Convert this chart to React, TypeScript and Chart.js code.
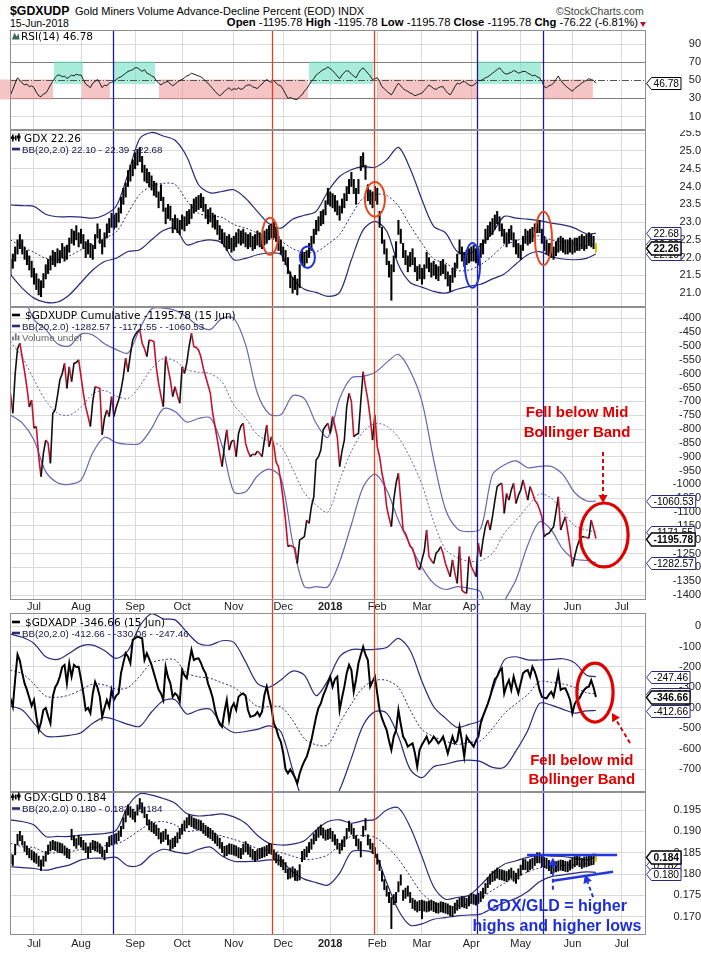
import React, { useEffect, useRef } from 'react';
import { Chart, registerables } from 'chart.js';

Chart.register(...registerables);

// ---------------- layout constants ----------------
const W = 701;
const H = 958;
const PLOT_L = 10;
const PLOT_R = 646;
const X_MIN = -0.2;
const X_MAX = 270.3;
const AF = '"Liberation Sans", Arial, Helvetica, sans-serif';
const VF = '"DejaVu Sans", Verdana, sans-serif';
const NAVY = '#2a2a7c';
const NAVY_LIGHT = '#6666b2';

// ---------------- x axis (trading-day index) ----------------
const MONTH_IDX = [10, 30, 53, 73, 95, 116, 136, 156, 175, 196, 217, 239, 260];
const MONTH_LBL = ['Jul', 'Aug', 'Sep', 'Oct', 'Nov', 'Dec', '2018', 'Feb', 'Mar', 'Apr', 'May', 'Jun', 'Jul'];
const BAND_X = [0, 5, 10, 15, 20, 25, 30, 35, 40, 45, 50, 55, 60, 65, 70, 75, 80, 85, 90, 95, 100, 105, 110, 115, 120, 125, 130, 135, 140, 145, 150, 155, 160, 165, 170, 175, 180, 185, 190, 195, 200, 205, 210, 215, 220, 225, 230, 235, 240, 245, 249];

// vertical marker lines (trading-day index)
const MARKER_X = [43.7, 111.4, 154.6, 198.4, 226.5];
const MARKER_C = ['#1b1b9a', '#d9441c', '#d9441c', '#1b1b9a', '#1b1b9a'];

// ---------------- RSI(14) ----------------
const RSI = [
  34, 40, 47, 53, 50, 47, 45, 46, 43, 44,
  42, 37, 33, 32, 35, 36, 40, 45, 49, 53,
  56, 56, 54, 55, 52, 54, 56, 55, 57, 56,
  56, 51, 46, 44, 42, 47, 49, 51, 47, 42,
  45, 44, 47, 48, 49, 51, 53, 54, 56, 58,
  60, 61, 62, 64, 64, 62, 60, 62, 58, 57,
  55, 54, 50, 47, 45, 47, 48, 49, 46, 44,
  46, 48, 50, 51, 53, 55, 56, 58, 57, 56,
  55, 54, 52, 49, 47, 44, 41, 38, 35, 33,
  35, 38, 40, 42, 39, 41, 40, 42, 40, 41,
  44, 45, 45, 43, 42, 41, 44, 46, 49, 51,
  49, 48, 50, 47, 45, 44, 40, 35, 30, 31,
  30, 29, 29, 32, 34, 38, 41, 45, 49, 52,
  56, 58, 60, 62, 63, 65, 63, 61, 58, 55,
  52, 56, 59, 61, 60, 57, 55, 53, 58, 62,
  64, 61, 58, 55, 51, 52, 53, 49, 43, 41,
  38, 36, 34, 38, 43, 47, 44, 41, 39, 38,
  36, 35, 33, 34, 35, 36, 39, 42, 45, 43,
  41, 40, 42, 43, 43, 39, 36, 34, 38, 43,
  47, 46, 48, 49, 47, 45, 44, 45, 47, 50,
  50, 51, 53, 54, 56, 58, 60, 62, 64, 61,
  58, 57, 58, 59, 61, 60, 58, 59, 60, 60,
  58, 57, 55, 56, 54, 53, 49, 43, 42, 44,
  45, 47, 51, 55, 50, 47, 44, 42, 40, 38,
  41, 43, 45, 47, 49, 50, 52, 51, 50, 46.78,
];
const RSI_TICKS = [10, 30, 50, 70, 90];
// annotation boxes on the RSI panel
const ZONE_START = [-4.5, 18.5, 30.4, 43.6, 63.2, 127, 155.9, 198.4, 226.5];
const ZONE_END = [18.1, 30.8, 42.3, 61.5, 126.5, 154.2, 198.4, 225.6, 247.7];
const ZONE_KIND = ['bear', 'bull', 'bear', 'bull', 'bear', 'bull', 'bear', 'bull', 'bear'];
const BULL_RANGE = [46, 71];
const BEAR_RANGE = [29, 51];

// ---------------- GDX price ----------------
const GDX_HI = [
  21.95, 22.1, 22.3, 22.5, 22.65, 22.5, 22.3, 22.2, 22.05, 21.9,
  21.7, 21.55, 21.4, 21.35, 21.55, 21.8, 21.95, 22.05, 22.2, 22.15,
  22.25, 22.2, 22.4, 22.3, 22.35, 22.55, 22.8, 22.75, 22.9, 22.7,
  22.8, 22.65, 22.45, 22.5, 22.4, 22.35, 22.65, 22.95, 22.8, 22.5,
  22.7, 22.95, 23.1, 23.25, 23.2, 23.25, 23.4, 23.7, 23.95, 24.1,
  24.45, 24.6, 24.75, 24.95, 25.05, 25.1, 24.85, 24.6, 24.5, 24.4,
  24.3, 24.15, 24.1, 23.85, 24.05, 23.7, 23.4, 23.5, 23.45, 23.1,
  23.2, 23.1, 23.05, 23.2, 23.15, 23.3, 23.35, 23.5, 23.65, 23.7,
  23.75, 23.8, 23.7, 23.5, 23.35, 23.4, 23.25, 23.2, 23.05, 22.9,
  22.8, 22.7, 22.6, 22.65, 22.55, 22.6, 22.7, 22.8, 22.75, 22.8,
  22.7, 22.65, 22.7, 22.6, 22.65, 22.75, 22.7, 22.65, 22.75, 22.8,
  22.9, 22.95, 23.0, 22.85, 22.6, 22.5, 22.3, 22.2, 22.0, 21.6,
  21.45, 21.5, 21.4, 21.8, 22.2, 22.15, 22.2, 22.4, 22.6, 22.8,
  23.05, 23.15, 23.3, 23.35, 23.6, 23.95, 23.85, 23.8, 23.75, 23.6,
  23.45, 23.65, 23.8, 24.0, 24.2, 24.4, 24.2, 23.95, 24.2, 24.85,
  24.95, 24.6, 24.05, 23.9, 23.85, 24.0, 23.95, 23.3, 22.85, 22.5,
  22.25, 21.9, 21.8, 22.05, 22.45, 23.05, 22.8, 22.4, 22.2, 22.05,
  22.15, 22.25, 22.0, 21.75, 21.8, 21.7, 21.8, 22.15, 22.0, 21.85,
  21.9, 21.8, 21.75, 21.9, 21.95, 21.8, 21.6, 21.5, 21.7, 21.85,
  22.1, 22.5, 22.3, 22.15, 22.2, 22.25, 22.3, 22.35, 22.25, 22.25,
  22.4, 22.5, 22.8, 22.9, 23.0, 23.1, 23.2, 23.3, 23.15, 22.95,
  22.8, 22.7, 22.8, 22.9, 22.7, 22.5, 22.4, 22.35, 22.6, 22.8,
  22.75, 22.8, 22.85, 22.95, 23.05, 23.05, 22.8, 22.6, 22.5, 22.4,
  22.4, 22.3, 22.45, 22.55, 22.6, 22.55, 22.5, 22.5, 22.55, 22.5,
  22.55, 22.55, 22.6, 22.65, 22.6, 22.65, 22.7, 22.65, 22.6, 22.4,
];
const GDX_LO = [
  21.5, 21.7, 21.9, 22.1, 22.25, 22.1, 21.95, 21.8, 21.65, 21.45,
  21.25, 21.1, 20.95, 20.9, 21.15, 21.4, 21.55, 21.65, 21.8, 21.75,
  21.85, 21.85, 22.0, 21.9, 21.95, 22.15, 22.4, 22.35, 22.5, 22.3,
  22.4, 22.25, 22.0, 22.1, 22.0, 21.95, 22.25, 22.55, 22.4, 22.1,
  22.3, 22.55, 22.7, 22.85, 22.8, 22.85, 23.0, 23.25, 23.5, 23.7,
  24.0, 24.15, 24.3, 24.5, 24.6, 24.7, 24.4, 24.15, 24.1, 24.0,
  23.9, 23.75, 23.7, 23.4, 23.6, 23.3, 22.95, 23.1, 23.05, 22.7,
  22.8, 22.7, 22.65, 22.8, 22.75, 22.9, 22.95, 23.1, 23.25, 23.3,
  23.35, 23.4, 23.3, 23.1, 22.95, 23.0, 22.85, 22.8, 22.65, 22.5,
  22.4, 22.3, 22.2, 22.25, 22.15, 22.2, 22.3, 22.4, 22.35, 22.4,
  22.3, 22.25, 22.3, 22.2, 22.25, 22.35, 22.3, 22.25, 22.35, 22.4,
  22.5, 22.55, 22.55, 22.45, 22.2, 22.1, 21.9, 21.8, 21.55, 21.15,
  21.0, 21.1, 20.95, 21.15, 21.8, 21.75, 21.85, 22.0, 22.2, 22.4,
  22.65, 22.75, 22.9, 22.95, 23.2, 23.5, 23.45, 23.4, 23.3, 23.2,
  23.05, 23.25, 23.4, 23.6, 23.8, 24.0, 23.8, 23.5, 23.8, 24.45,
  24.55, 24.2, 23.6, 23.5, 23.4, 23.6, 23.5, 22.85, 22.4, 22.1,
  21.8, 21.45, 20.8, 21.6, 22.0, 22.65, 22.4, 22.0, 21.8, 21.6,
  21.75, 21.8, 21.6, 21.35, 21.4, 21.25, 21.4, 21.7, 21.6, 21.45,
  21.5, 21.4, 21.35, 21.5, 21.55, 21.4, 21.2, 21.05, 21.3, 21.45,
  21.7, 22.1, 21.9, 21.75, 21.8, 21.85, 21.9, 21.9, 21.85, 21.8,
  22.0, 22.1, 22.4, 22.5, 22.6, 22.65, 22.8, 22.95, 22.75, 22.6,
  22.4, 22.3, 22.4, 22.5, 22.3, 22.1, 22.0, 21.95, 22.2, 22.4,
  22.35, 22.4, 22.45, 22.55, 22.7, 22.7, 22.4, 22.2, 22.1, 22.05,
  22.0, 21.95, 22.05, 22.15, 22.2, 22.15, 22.1, 22.1, 22.15, 22.1,
  22.15, 22.2, 22.2, 22.25, 22.2, 22.25, 22.35, 22.3, 22.25, 22.15,
];
const GDX_BB_UP = [23.48, 23.46, 23.44, 23.22, 23.15, 23.15, 23.14, 23.11, 23.20, 23.45, 24.35, 25.35, 25.52, 25.42, 25.30, 24.84, 24.05, 23.82, 23.86, 23.91, 23.67, 23.30, 22.95, 22.83, 23.08, 23.19, 23.30, 23.86, 24.28, 24.47, 24.56, 24.54, 24.75, 25.10, 24.50, 23.63, 22.88, 22.70, 22.17, 22.11, 22.35, 22.70, 23.16, 23.11, 23.08, 23.04, 22.97, 22.92, 22.83, 22.67, 22.68];
const GDX_BB_MID = [22.50, 22.30, 22.15, 21.98, 21.95, 22.05, 22.22, 22.38, 22.55, 22.72, 23.26, 23.78, 24.01, 24.09, 24.06, 23.60, 23.25, 23.16, 23.13, 22.93, 22.83, 22.69, 22.54, 22.46, 22.25, 22.15, 22.16, 22.38, 22.65, 23.20, 23.67, 23.78, 23.75, 23.45, 22.90, 22.40, 21.96, 21.85, 21.64, 21.65, 21.80, 22.05, 22.35, 22.47, 22.58, 22.61, 22.50, 22.44, 22.39, 22.33, 22.39];
const GDX_BB_LO = [21.52, 21.14, 20.86, 20.74, 20.75, 20.95, 21.30, 21.65, 21.89, 21.98, 22.17, 22.22, 22.50, 22.76, 22.83, 22.36, 22.45, 22.50, 22.41, 21.94, 21.98, 22.08, 22.13, 22.09, 21.42, 21.11, 21.02, 20.91, 21.02, 21.94, 22.78, 23.02, 22.75, 21.80, 21.30, 21.17, 21.05, 21.00, 21.11, 21.19, 21.25, 21.40, 21.54, 21.82, 22.08, 22.17, 22.03, 21.96, 21.94, 21.98, 22.10];
const GDX_TICKS = [21.0, 21.5, 22.0, 22.5, 23.0, 23.5, 24.0, 24.5, 25.0, 25.5];
const GDX_LAST = { close: 22.26, lo: 22.10, mid: 22.39, up: 22.68 };
// circled spots on the GDX panel: centre (index, price) and radii
const GDX_ELL_X = [110.4, 126.3, 155, 196.5, 226.7];
const GDX_ELL_Y = [22.60, 22.01, 23.64, 21.78, 22.54];
const GDX_ELL_RX = [3.4, 3.2, 4.25, 3.2, 3.6];
const GDX_ELL_RY = [0.52, 0.30, 0.49, 0.63, 0.75];
const GDX_ELL_C = ['#e2491f', '#1f35d8', '#e2491f', '#1f35d8', '#e2491f'];

// ---------------- $GDXUDP cumulative ----------------
const CUM = [
  -671, -743, -600, -510, -490, -540, -593, -650, -720, -695,
  -797, -791, -900, -972, -888, -840, -852, -924, -743, -731,
  -680, -623, -600, -563, -653, -575, -629, -563, -560, -550,
  -610, -671, -720, -755, -791, -700, -647, -650, -653, -821,
  -760, -731, -755, -683, -755, -720, -695, -660, -611, -544,
  -593, -530, -478, -460, -448, -442, -490, -510, -538, -478,
  -480, -484, -575, -635, -680, -719, -538, -580, -623, -683,
  -647, -680, -707, -575, -599, -560, -500, -454, -502, -505,
  -514, -540, -580, -610, -640, -670, -743, -790, -840, -890,
  -936, -860, -803, -876, -845, -840, -900, -816, -790, -779,
  -852, -880, -900, -890, -894, -880, -888, -900, -840, -786,
  -864, -828, -860, -920, -936, -990, -1057, -1130, -1225, -1220,
  -1225, -1230, -1286, -1201, -1195, -1189, -1129, -1141, -1080, -1045,
  -912, -900, -876, -803, -790, -779, -816, -755, -790, -828,
  -936, -880, -840, -720, -671, -700, -828, -820, -816, -700,
  -593, -647, -695, -760, -840, -749, -864, -900, -960, -1000,
  -1081, -1120, -1153, -1057, -996, -960, -1060, -1165, -1177, -1200,
  -1225, -1231, -1260, -1297, -1309, -1273, -1240, -1165, -1261, -1275,
  -1286, -1249, -1240, -1225, -1250, -1286, -1310, -1334, -1273, -1320,
  -1358, -1225, -1382, -1390, -1394, -1261, -1297, -1315, -1334, -1213,
  -1261, -1200, -1153, -1129, -1165, -1117, -1060, -1008, -1000, -996,
  -1105, -1033, -1057, -1020, -996, -1069, -1040, -1021, -984, -1020,
  -1057, -1008, -1030, -1057, -1069, -1090, -1117, -1189, -1180, -1177,
  -1165, -1153, -1100, -1045, -1165, -1140, -1117, -1170, -1225, -1297,
  -1260, -1225, -1201, -1190, -1189, -1192, -1195, -1129, -1160, -1195.78,
];
const CUM_BB_UP = [-219, -304, -404, -440, -492, -500, -457, -460, -492, -513, -525, -438, -366, -363, -371, -395, -428, -440, -400, -400, -495, -670, -745, -748, -680, -690, -779, -830, -690, -615, -610, -596, -560, -530, -590, -700, -912, -1090, -1160, -1171, -1160, -965, -930, -915, -940, -935, -935, -965, -1030, -1060, -1060.53];
const CUM_BB_MID = [-484, -541, -622, -697, -743, -750, -721, -673, -661, -681, -690, -645, -582, -545, -554, -585, -595, -600, -630, -713, -761, -820, -845, -862, -944, -1030, -1075, -1100, -985, -880, -810, -780, -790, -830, -905, -1000, -1135, -1235, -1265, -1278, -1275, -1250, -1177, -1130, -1080, -1035, -1050, -1100, -1150, -1165, -1171.55];
const CUM_BB_LO = [-749, -778, -840, -954, -994, -1000, -985, -886, -830, -849, -855, -852, -798, -727, -737, -775, -762, -760, -860, -1027, -1027, -970, -945, -976, -1208, -1370, -1370, -1370, -1280, -1145, -1010, -963, -1020, -1130, -1220, -1300, -1358, -1380, -1370, -1376, -1390, -1535, -1424, -1345, -1220, -1135, -1165, -1235, -1270, -1275, -1282.57];
const CUM_TICKS = [-400, -450, -500, -550, -600, -650, -700, -750, -800, -850, -900, -950, -1000, -1050, -1100, -1150, -1200, -1250, -1300, -1350, -1400];
const CUM_LAST = { close: -1195.78, lo: -1282.57, mid: -1171.55, up: -1060.53 };

// ---------------- $GDXADP ----------------
const ADP = [
  -353, -394, -260, -140, -170, -230, -280, -312, -350, -390,
  -361, -443, -510, -470, -410, -400, -440, -475, -345, -300,
  -280, -247, -200, -190, -280, -182, -247, -190, -200, -199,
  -260, -329, -410, -400, -426, -330, -272, -300, -345, -443,
  -400, -361, -394, -312, -361, -340, -329, -231, -180, -133,
  -150, -182, -68, -60, -52, -56, -60, -166, -133, -160,
  -190, -230, -270, -310, -329, -361, -199, -250, -280, -345,
  -329, -340, -369, -215, -240, -255, -180, -117, -166, -160,
  -158, -180, -210, -231, -280, -312, -350, -410, -450, -480,
  -492, -420, -361, -459, -400, -378, -410, -345, -335, -329,
  -340, -410, -443, -440, -435, -420, -440, -418, -337, -296,
  -353, -400, -475, -500, -540, -565, -620, -700, -719, -700,
  -719, -740, -768, -720, -687, -660, -638, -600, -557, -500,
  -443, -400, -378, -340, -312, -280, -247, -296, -260, -247,
  -410, -350, -296, -230, -190, -215, -321, -260, -182, -140,
  -101, -140, -166, -296, -270, -247, -330, -410, -450, -480,
  -508, -560, -605, -540, -508, -410, -480, -540, -560, -589,
  -580, -573, -620, -687, -605, -580, -560, -540, -573, -560,
  -540, -555, -573, -560, -540, -580, -622, -580, -540, -573,
  -560, -492, -560, -638, -540, -560, -573, -589, -560, -540,
  -475, -440, -410, -380, -345, -300, -260, -247, -220, -207,
  -329, -290, -264, -312, -247, -290, -329, -280, -231, -220,
  -215, -247, -199, -223, -260, -312, -345, -350, -353, -335,
  -321, -345, -290, -231, -312, -305, -304, -330, -361, -426,
  -380, -361, -353, -330, -312, -300, -296, -265, -300, -346.66,
];
const ADP_BB_UP = [-40, -55, -85, -150, -163, -133, -98, -93, -120, -158, -120, 0, 60, 35, 30, -30, -85, -93, -72, -80, -175, -280, -299, -264, -220, -240, -340, -265, -150, -115, -115, -114, -105, -60, -120, -270, -394, -450, -495, -480, -459, -313, -166, -150, -165, -166, -163, -160, -180, -240, -247.46];
const ADP_BB_MID = [-215, -233, -283, -342, -348, -337, -312, -283, -288, -308, -300, -245, -180, -165, -165, -230, -248, -256, -277, -300, -345, -392, -394, -395, -460, -550, -580, -580, -475, -380, -300, -266, -265, -300, -410, -505, -540, -562, -578, -568, -560, -500, -428, -380, -335, -272, -275, -283, -300, -326, -330.06];
const ADP_BB_LO = [-390, -410, -475, -537, -540, -534, -521, -475, -446, -460, -480, -490, -420, -365, -360, -430, -410, -407, -483, -520, -515, -505, -488, -516, -700, -860, -820, -895, -800, -645, -485, -418, -425, -540, -700, -740, -687, -675, -660, -655, -662, -690, -690, -610, -510, -378, -386, -407, -425, -414, -412.66];
const ADP_TICKS = [0, -100, -200, -300, -400, -500, -600, -700];
const ADP_LAST = { close: -346.66, lo: -412.66, mid: -330.06, up: -247.46 };

// ---------------- GDX:GLD ratio ----------------
const GLD_HI = [
  0.1848, 0.1845, 0.1870, 0.1893, 0.1900, 0.1890, 0.1876, 0.1866, 0.1860, 0.1856,
  0.1852, 0.1848, 0.1842, 0.1833, 0.1842, 0.1853, 0.1868, 0.1876, 0.1879, 0.1876,
  0.1875, 0.1873, 0.1871, 0.1866, 0.1861, 0.1858, 0.1905, 0.1890, 0.1883, 0.1891,
  0.1886, 0.1879, 0.1873, 0.1864, 0.1873, 0.1879, 0.1877, 0.1875, 0.1871, 0.1863,
  0.1856, 0.1874, 0.1888, 0.1891, 0.1893, 0.1895, 0.1901, 0.1912, 0.1932, 0.1948,
  0.1962, 0.1958, 0.1952, 0.1946, 0.1962, 0.1977, 0.1967, 0.1957, 0.1940, 0.1927,
  0.1923, 0.1919, 0.1915, 0.1907, 0.1897, 0.1900, 0.1905, 0.1892, 0.1880, 0.1884,
  0.1888, 0.1897, 0.1907, 0.1917, 0.1925, 0.1932, 0.1939, 0.1935, 0.1931, 0.1929,
  0.1927, 0.1925, 0.1919, 0.1914, 0.1910, 0.1907, 0.1902, 0.1896, 0.1890, 0.1884,
  0.1874, 0.1865, 0.1867, 0.1871, 0.1870, 0.1868, 0.1866, 0.1862, 0.1860, 0.1870,
  0.1876, 0.1870, 0.1864, 0.1858, 0.1853, 0.1857, 0.1860, 0.1862, 0.1864, 0.1867,
  0.1872, 0.1870, 0.1857, 0.1850, 0.1845, 0.1841, 0.1834, 0.1827, 0.1812, 0.1814,
  0.1817, 0.1812, 0.1808, 0.1822, 0.1853, 0.1858, 0.1864, 0.1874, 0.1882, 0.1894,
  0.1902, 0.1910, 0.1915, 0.1908, 0.1903, 0.1905, 0.1907, 0.1900, 0.1892, 0.1882,
  0.1872, 0.1880, 0.1888, 0.1907, 0.1924, 0.1917, 0.1907, 0.1890, 0.1882, 0.1876,
  0.1912, 0.1930, 0.1892, 0.1882, 0.1872, 0.1862, 0.1847, 0.1832, 0.1807, 0.1787,
  0.1772, 0.1757, 0.1745, 0.1752, 0.1757, 0.1782, 0.1798, 0.1762, 0.1767, 0.1772,
  0.1757, 0.1743, 0.1739, 0.1735, 0.1738, 0.1739, 0.1737, 0.1735, 0.1737, 0.1739,
  0.1736, 0.1733, 0.1732, 0.1735, 0.1734, 0.1732, 0.1730, 0.1726, 0.1724, 0.1732,
  0.1739, 0.1743, 0.1747, 0.1745, 0.1743, 0.1749, 0.1755, 0.1753, 0.1751, 0.1755,
  0.1759, 0.1767, 0.1778, 0.1792, 0.1800, 0.1806, 0.1809, 0.1814, 0.1811, 0.1810,
  0.1808, 0.1806, 0.1810, 0.1814, 0.1807, 0.1802, 0.1812, 0.1821, 0.1834, 0.1834,
  0.1829, 0.1834, 0.1837, 0.1844, 0.1850, 0.1850, 0.1841, 0.1839, 0.1837, 0.1832,
  0.1825, 0.1827, 0.1829, 0.1831, 0.1833, 0.1832, 0.1830, 0.1829, 0.1833, 0.1837,
  0.1841, 0.1845, 0.1841, 0.1837, 0.1840, 0.1841, 0.1843, 0.1845, 0.1847, 0.1848,
];
const GLD_LO = [
  0.1825, 0.1820, 0.1845, 0.1868, 0.1878, 0.1868, 0.1853, 0.1845, 0.1838, 0.1833,
  0.1828, 0.1825, 0.1818, 0.1808, 0.1818, 0.1830, 0.1846, 0.1854, 0.1857, 0.1855,
  0.1852, 0.1850, 0.1849, 0.1844, 0.1838, 0.1836, 0.1880, 0.1866, 0.1860, 0.1868,
  0.1863, 0.1856, 0.1850, 0.1838, 0.1850, 0.1857, 0.1854, 0.1852, 0.1848, 0.1840,
  0.1833, 0.1850, 0.1864, 0.1868, 0.1870, 0.1872, 0.1878, 0.1888, 0.1906, 0.1922,
  0.1938, 0.1933, 0.1928, 0.1922, 0.1938, 0.1952, 0.1943, 0.1932, 0.1915, 0.1903,
  0.1899, 0.1895, 0.1890, 0.1882, 0.1872, 0.1876, 0.1881, 0.1868, 0.1856, 0.1860,
  0.1864, 0.1873, 0.1883, 0.1893, 0.1901, 0.1908, 0.1915, 0.1911, 0.1907, 0.1905,
  0.1903, 0.1901, 0.1895, 0.1890, 0.1886, 0.1883, 0.1878, 0.1872, 0.1866, 0.1860,
  0.1850, 0.1841, 0.1843, 0.1847, 0.1846, 0.1844, 0.1842, 0.1838, 0.1836, 0.1846,
  0.1852, 0.1846, 0.1840, 0.1834, 0.1829, 0.1833, 0.1836, 0.1838, 0.1840, 0.1843,
  0.1848, 0.1846, 0.1833, 0.1826, 0.1821, 0.1817, 0.1810, 0.1803, 0.1788, 0.1790,
  0.1793, 0.1785, 0.1784, 0.1786, 0.1829, 0.1834, 0.1840, 0.1850, 0.1858, 0.1870,
  0.1878, 0.1886, 0.1891, 0.1884, 0.1879, 0.1881, 0.1883, 0.1876, 0.1868, 0.1858,
  0.1848, 0.1856, 0.1864, 0.1883, 0.1900, 0.1893, 0.1883, 0.1866, 0.1858, 0.1840,
  0.1888, 0.1903, 0.1868, 0.1858, 0.1848, 0.1838, 0.1823, 0.1808, 0.1783, 0.1763,
  0.1748, 0.1733, 0.1672, 0.1728, 0.1733, 0.1758, 0.1774, 0.1738, 0.1743, 0.1748,
  0.1733, 0.1719, 0.1715, 0.1711, 0.1714, 0.1695, 0.1713, 0.1711, 0.1713, 0.1715,
  0.1712, 0.1709, 0.1708, 0.1711, 0.1710, 0.1708, 0.1706, 0.1702, 0.1700, 0.1708,
  0.1715, 0.1719, 0.1723, 0.1721, 0.1719, 0.1725, 0.1731, 0.1729, 0.1727, 0.1731,
  0.1735, 0.1743, 0.1754, 0.1768, 0.1776, 0.1782, 0.1785, 0.1790, 0.1787, 0.1786,
  0.1784, 0.1782, 0.1786, 0.1790, 0.1783, 0.1778, 0.1788, 0.1797, 0.1810, 0.1810,
  0.1805, 0.1810, 0.1813, 0.1820, 0.1826, 0.1826, 0.1817, 0.1815, 0.1813, 0.1808,
  0.1801, 0.1803, 0.1805, 0.1807, 0.1809, 0.1808, 0.1806, 0.1805, 0.1809, 0.1813,
  0.1817, 0.1821, 0.1817, 0.1813, 0.1816, 0.1817, 0.1819, 0.1821, 0.1823, 0.1830,
];
const GLD_BB_UP = [0.1927, 0.1923, 0.1915, 0.1888, 0.1888, 0.1888, 0.1891, 0.1893, 0.1895, 0.1903, 0.1959, 0.1988, 0.1985, 0.1977, 0.1966, 0.1942, 0.1936, 0.1938, 0.1941, 0.1934, 0.1919, 0.1891, 0.1872, 0.1868, 0.1870, 0.1878, 0.1903, 0.1923, 0.1927, 0.1919, 0.1925, 0.1928, 0.1950, 0.1955, 0.1910, 0.1841, 0.1770, 0.1741, 0.1745, 0.1750, 0.1774, 0.1802, 0.1823, 0.1831, 0.1839, 0.1844, 0.1842, 0.1841, 0.1837, 0.1833, 0.1840];
const GLD_BB_MID = [0.1872, 0.1864, 0.1862, 0.1850, 0.1850, 0.1852, 0.1858, 0.1862, 0.1866, 0.1870, 0.1884, 0.1903, 0.1919, 0.1923, 0.1915, 0.1900, 0.1903, 0.1897, 0.1889, 0.1881, 0.1872, 0.1860, 0.1855, 0.1850, 0.1842, 0.1834, 0.1836, 0.1845, 0.1868, 0.1889, 0.1890, 0.1886, 0.1865, 0.1835, 0.1795, 0.1755, 0.1733, 0.1723, 0.1725, 0.1731, 0.1743, 0.1762, 0.1778, 0.1792, 0.1805, 0.1814, 0.1819, 0.1820, 0.1822, 0.1824, 0.1822];
const GLD_BB_LO = [0.1817, 0.1815, 0.1813, 0.1809, 0.1815, 0.1821, 0.1833, 0.1837, 0.1837, 0.1839, 0.1819, 0.1821, 0.1845, 0.1858, 0.1852, 0.1848, 0.1858, 0.1863, 0.1842, 0.1830, 0.1829, 0.1830, 0.1833, 0.1831, 0.1805, 0.1788, 0.1780, 0.1774, 0.1802, 0.1852, 0.1855, 0.1847, 0.1780, 0.1715, 0.1680, 0.1683, 0.1694, 0.1698, 0.1702, 0.1704, 0.1706, 0.1720, 0.1733, 0.1743, 0.1759, 0.1782, 0.1794, 0.1798, 0.1802, 0.1805, 0.1804];
const GLD_TICKS = [0.170, 0.175, 0.180, 0.185, 0.190, 0.195];
const GLD_LAST = { close: 0.184, lo: 0.180, mid: 0.182, up: 0.184 };

// ---------------- helpers ----------------
const series = (arr: number[]) => arr.map((v, i) => ({ x: i, y: v }));
const bands = (arr: number[]) => BAND_X.map((x, k) => ({ x, y: arr[k] }));
const floatBars = (lo: number[], hi: number[]) => hi.map((h, i) => ({ x: i, y: [lo[i], h] }));

function bandSets(up: number[], mid: number[], lo: number[], color: string) {
  const base = { type: 'line', pointRadius: 0, tension: 0.3, borderColor: color, fill: false };
  return [
    { ...base, data: bands(up), borderWidth: 1.2 },
    { ...base, data: bands(mid), borderWidth: 1, borderDash: [2, 2] },
    { ...base, data: bands(lo), borderWidth: 1.2 },
  ];
}

function drawArrow(ctx: any, x1: number, y1: number, x2: number, y2: number, color: string, lw: number) {
  const ang = Math.atan2(y2 - y1, x2 - x1);
  const head = 8;
  const bx = x2 - Math.cos(ang) * head;
  const by = y2 - Math.sin(ang) * head;
  ctx.save();
  ctx.strokeStyle = color;
  ctx.lineWidth = lw;
  ctx.setLineDash([4, 3]);
  ctx.beginPath();
  ctx.moveTo(x1, y1);
  ctx.lineTo(bx, by);
  ctx.stroke();
  ctx.setLineDash([]);
  ctx.fillStyle = color;
  ctx.beginPath();
  ctx.moveTo(x2, y2);
  ctx.lineTo(bx + Math.sin(ang) * 4.5, by - Math.cos(ang) * 4.5);
  ctx.lineTo(bx - Math.sin(ang) * 4.5, by + Math.cos(ang) * 4.5);
  ctx.closePath();
  ctx.fill();
  ctx.restore();
}

function drawEllipse(chart: any, cx: number, cy: number, rx: number, ry: number, color: string, lw: number) {
  const xs = chart.scales.x;
  const ys = chart.scales.y;
  const px = xs.getPixelForValue(cx);
  const py = ys.getPixelForValue(cy);
  const prx = Math.abs(xs.getPixelForValue(cx + rx) - px);
  const pry = Math.abs(ys.getPixelForValue(cy + ry) - py);
  const ctx = chart.ctx;
  ctx.save();
  ctx.strokeStyle = color;
  ctx.lineWidth = lw;
  ctx.beginPath();
  ctx.ellipse(px, py, prx, pry, 0, 0, Math.PI * 2);
  ctx.stroke();
  ctx.restore();
}

function drawNote(chart: any, x: number, y: number, text: string, font: string, color: string) {
  const ctx = chart.ctx;
  ctx.save();
  ctx.font = font;
  ctx.fillStyle = color;
  ctx.textAlign = 'center';
  ctx.textBaseline = 'middle';
  ctx.fillText(text, chart.scales.x.getPixelForValue(x), chart.scales.y.getPixelForValue(y));
  ctx.restore();
}

function arrowData(chart: any, x1: number, y1: number, x2: number, y2: number, color: string, lw: number) {
  const xs = chart.scales.x;
  const ys = chart.scales.y;
  drawArrow(chart.ctx, xs.getPixelForValue(x1), ys.getPixelForValue(y1), xs.getPixelForValue(x2), ys.getPixelForValue(y2), color, lw);
}

function lineData(chart: any, x1: number, y1: number, x2: number, y2: number, color: string, lw: number) {
  const xs = chart.scales.x;
  const ys = chart.scales.y;
  const ctx = chart.ctx;
  ctx.save();
  ctx.strokeStyle = color;
  ctx.lineWidth = lw;
  ctx.beginPath();
  ctx.moveTo(xs.getPixelForValue(x1), ys.getPixelForValue(y1));
  ctx.lineTo(xs.getPixelForValue(x2), ys.getPixelForValue(y2));
  ctx.stroke();
  ctx.restore();
}

type LegendLine = { icon: string; iconColor?: string; text: string; big: boolean; dy: number; tx: number; color?: string };
type Box = { v: number; t: string; bold?: boolean; c: string };

function drawLegend(ctx: any, a: any, lines: LegendLine[]) {
  ctx.save();
  for (const L of lines) {
    const y = a.top + L.dy;
    if (L.icon === 'dash') {
      ctx.strokeStyle = L.iconColor || '#000';
      ctx.lineWidth = 2.6;
      ctx.beginPath();
      ctx.moveTo(12, y - 3.5);
      ctx.lineTo(20, y - 3.5);
      ctx.stroke();
    } else if (L.icon === 'mount') {
      ctx.fillStyle = '#3d6b55';
      ctx.beginPath();
      ctx.moveTo(12, y);
      ctx.lineTo(14.5, y - 7);
      ctx.lineTo(16.5, y - 3);
      ctx.lineTo(18.5, y - 6);
      ctx.lineTo(19.5, y);
      ctx.closePath();
      ctx.fill();
    } else if (L.icon === 'candle') {
      ctx.fillStyle = '#000';
      ctx.fillRect(12, y - 7, 1.6, 7);
      ctx.fillRect(15, y - 6, 1.6, 5);
      ctx.fillRect(18, y - 8, 1.6, 8);
      ctx.fillRect(11, y - 5, 3.5, 2.5);
      ctx.fillRect(17, y - 6, 3.5, 3);
    } else if (L.icon === 'vol') {
      ctx.fillStyle = '#777';
      ctx.fillRect(12, y - 4, 1.8, 4);
      ctx.fillRect(14.8, y - 7, 1.8, 7);
      ctx.fillRect(17.6, y - 5, 1.8, 5);
    }
    ctx.font = L.big ? `10.5px ${VF}` : `9.8px ${AF}`;
    ctx.fillStyle = L.color || (L.big ? '#000' : '#16164a');
    ctx.textAlign = 'left';
    ctx.textBaseline = 'alphabetic';
    ctx.fillText(L.text, L.tx, y);
  }
  ctx.restore();
}

function drawBoxes(chart: any, boxes: Box[]) {
  const ctx = chart.ctx;
  const ys = chart.scales.y;
  const a = chart.chartArea;
  ctx.save();
  for (const b of boxes) {
    const y = Math.round(ys.getPixelForValue(b.v)) + 0.5;
    ctx.font = `${b.bold ? 'bold ' : ''}10.2px ${AF}`;
    const tw = ctx.measureText(b.t).width;
    const x0 = a.right + 0.5;
    const bx = x0 + 5;
    const h = b.bold ? 13 : 12;
    ctx.beginPath();
    ctx.moveTo(x0, y);
    ctx.lineTo(bx, y - h / 2);
    ctx.lineTo(bx + tw + 4, y - h / 2);
    ctx.lineTo(bx + tw + 4, y + h / 2);
    ctx.lineTo(bx, y + h / 2);
    ctx.closePath();
    ctx.fillStyle = '#fff';
    ctx.fill();
    ctx.strokeStyle = b.c;
    ctx.lineWidth = b.bold ? 1.3 : 1;
    ctx.stroke();
    ctx.fillStyle = '#000';
    ctx.textAlign = 'left';
    ctx.textBaseline = 'middle';
    ctx.fillText(b.t, bx + 2, y + 0.5);
  }
  ctx.restore();
}

type PanelSpec = {
  key: string;
  top: number;
  height: number;
  xHeight: number;
  xPad: number;
  showX: boolean;
  yMin: number;
  yMax: number;
  yTicks: number[];
  yFmt: (v: number) => string;
  yGrid?: (v: number) => string;
  datasets: any[];
  legend: LegendLine[];
  boxes: Box[];
  zones?: boolean;
  dash50?: boolean;
  markersToCanvasBottom?: boolean;
  annotate?: (chart: any) => void;
};

function makeConfig(s: PanelSpec) {
  const decor = {
    id: 'decor_' + s.key,
    beforeDatasetsDraw(chart: any) {
      const ctx = chart.ctx;
      const xs = chart.scales.x;
      const ys = chart.scales.y;
      const a = chart.chartArea;
      ctx.save();
      if (s.zones) {
        for (let k = 0; k < ZONE_START.length; k++) {
          const bull = ZONE_KIND[k] === 'bull';
          const rng = bull ? BULL_RANGE : BEAR_RANGE;
          const x1 = xs.getPixelForValue(ZONE_START[k]);
          const x2 = xs.getPixelForValue(ZONE_END[k]);
          const y1 = ys.getPixelForValue(rng[1]);
          const y2 = ys.getPixelForValue(rng[0]);
          ctx.fillStyle = bull ? 'rgba(110, 225, 195, 0.6)' : 'rgba(236, 150, 150, 0.55)';
          ctx.fillRect(x1, y1, x2 - x1, y2 - y1);
        }
      }
      if (s.dash50) {
        const y = Math.round(ys.getPixelForValue(50)) + 0.5;
        ctx.strokeStyle = '#555';
        ctx.lineWidth = 1;
        ctx.setLineDash([7, 2, 1, 2]);
        ctx.beginPath();
        ctx.moveTo(a.left, y);
        ctx.lineTo(a.right, y);
        ctx.stroke();
        ctx.setLineDash([]);
      }
      ctx.restore();
    },
    afterDatasetsDraw(chart: any) {
      const ctx = chart.ctx;
      const xs = chart.scales.x;
      const a = chart.chartArea;
      ctx.save();
      const bottom = s.markersToCanvasBottom ? chart.height : a.bottom;
      for (let k = 0; k < MARKER_X.length; k++) {
        const x = Math.round(xs.getPixelForValue(MARKER_X[k])) + 0.5;
        ctx.strokeStyle = MARKER_C[k];
        ctx.lineWidth = 1.3;
        ctx.beginPath();
        ctx.moveTo(x, a.top);
        ctx.lineTo(x, bottom);
        ctx.stroke();
      }
      ctx.strokeStyle = '#8f8f8f';
      ctx.lineWidth = 1;
      ctx.strokeRect(a.left + 0.5, a.top + 0.5, a.right - a.left - 1, a.bottom - a.top - 1);
      ctx.restore();
      if (s.annotate) s.annotate(chart);
    },
    afterDraw(chart: any) {
      drawLegend(chart.ctx, chart.chartArea, s.legend);
      drawBoxes(chart, s.boxes);
    },
  };

  return {
    type: 'line',
    data: { datasets: s.datasets },
    options: {
      animation: false,
      responsive: false,
      maintainAspectRatio: false,
      devicePixelRatio: 1,
      events: [],
      layout: { padding: { left: PLOT_L, right: 0, top: 0, bottom: 0 } },
      plugins: { legend: { display: false }, tooltip: { enabled: false } },
      scales: {
        x: {
          type: 'linear',
          min: X_MIN,
          max: X_MAX,
          offset: false,
          bounds: 'data',
          afterBuildTicks: (sc: any) => {
            sc.ticks = MONTH_IDX.map((v) => ({ value: v }));
          },
          afterFit: (sc: any) => {
            sc.height = s.xHeight;
            sc.paddingLeft = 0;
            sc.paddingRight = 0;
          },
          grid: { color: '#dadada', lineWidth: 1, drawTicks: false, offset: false },
          border: { display: false },
          ticks: {
            display: s.showX,
            autoSkip: false,
            maxRotation: 0,
            padding: s.xPad,
            color: '#222',
            font: (c: any) => ({ family: AF, size: 11, weight: c.tick && c.tick.value === 136 ? 'bold' : 'normal' }),
            callback: (v: any) => {
              const k = MONTH_IDX.indexOf(v);
              return k >= 0 ? MONTH_LBL[k] : '';
            },
          },
        },
        y: {
          type: 'linear',
          position: 'right',
          min: s.yMin,
          max: s.yMax,
          bounds: 'data',
          afterBuildTicks: (sc: any) => {
            sc.ticks = s.yTicks.map((v) => ({ value: v }));
          },
          afterFit: (sc: any) => {
            sc.width = W - PLOT_R;
            sc.paddingTop = 0;
            sc.paddingBottom = 0;
          },
          grid: {
            drawTicks: false,
            lineWidth: 1,
            color: (c: any) => (s.yGrid && c.tick ? s.yGrid(c.tick.value) : '#dadada'),
          },
          border: { display: false },
          ticks: {
            autoSkip: false,
            crossAlign: 'far',
            padding: 3,
            color: '#222',
            font: { family: AF, size: 11 },
            callback: (v: any) => s.yFmt(v),
          },
        },
      },
    },
    plugins: [decor],
  };
}

function Panel({ spec }: { spec: PanelSpec }) {
  const ref = useRef<HTMLCanvasElement>(null);
  useEffect(() => {
    const chart = new Chart(ref.current as any, makeConfig(spec) as any);
    return () => chart.destroy();
  }, []);
  return (
    <canvas
      ref={ref}
      width={W}
      height={spec.height}
      style={{ position: 'absolute', left: 0, top: spec.top, width: W, height: spec.height, display: 'block' }}
    />
  );
}

// ---------------- panel definitions ----------------
const PANELS: PanelSpec[] = [
  {
    key: 'rsi',
    top: 30,
    height: 100,
    xHeight: 0,
    xPad: 0,
    showX: false,
    yMin: -5,
    yMax: 106,
    yTicks: RSI_TICKS,
    yFmt: (v) => String(v),
    yGrid: (v) => (v === 70 || v === 30 ? '#7c7c7c' : v === 50 ? 'rgba(0,0,0,0)' : '#dadada'),
    zones: true,
    dash50: true,
    datasets: [{ type: 'line', data: series(RSI), borderColor: '#1a1a1a', borderWidth: 1, pointRadius: 0, tension: 0 }],
    legend: [{ icon: 'mount', text: 'RSI(14) 46.78', big: true, dy: 9.5, tx: 21 }],
    boxes: [{ v: RSI[RSI.length - 1], t: '46.78', c: '#000' }],
  },
  {
    key: 'gdx',
    top: 130,
    height: 177,
    xHeight: 0,
    xPad: 0,
    showX: false,
    yMin: 20.61,
    yMax: 25.59,
    yTicks: GDX_TICKS,
    yFmt: (v) => v.toFixed(1),
    datasets: [
      {
        type: 'bar',
        data: floatBars(GDX_LO, GDX_HI),
        backgroundColor: (c: any) => (c.dataIndex === GDX_HI.length - 1 ? '#d6c300' : '#000'),
        barThickness: 1.4,
        grouped: false,
      },
      ...bandSets(GDX_BB_UP, GDX_BB_MID, GDX_BB_LO, NAVY),
    ],
    legend: [
      { icon: 'candle', text: 'GDX 22.26', big: true, dy: 11.5, tx: 24 },
      { icon: 'dash', iconColor: NAVY, text: 'BB(20,2.0) 22.10 - 22.39 - 22.68', big: false, dy: 22.5, tx: 22 },
    ],
    boxes: [
      { v: GDX_LAST.mid, t: '22.39', c: NAVY },
      { v: GDX_LAST.up, t: '22.68', c: NAVY },
      { v: GDX_LAST.lo, t: '22.10', c: NAVY },
      { v: GDX_LAST.close, t: '22.26', bold: true, c: '#000' },
    ],
    annotate: (chart) => {
      for (let k = 0; k < GDX_ELL_X.length; k++) {
        drawEllipse(chart, GDX_ELL_X[k], GDX_ELL_Y[k], GDX_ELL_RX[k], GDX_ELL_RY[k], GDX_ELL_C[k], 2);
      }
    },
  },
  {
    key: 'cum',
    top: 307,
    height: 306,
    xHeight: 13,
    xPad: 0,
    showX: true,
    yMin: -1418,
    yMax: -359,
    yTicks: CUM_TICKS,
    yFmt: (v) => String(v),
    markersToCanvasBottom: true,
    datasets: [
      {
        type: 'line',
        data: series(CUM),
        borderColor: '#111',
        borderWidth: 1.6,
        pointRadius: 0,
        tension: 0,
        segment: { borderColor: (c: any) => (c.p1.parsed.y < c.p0.parsed.y ? '#c4122f' : '#111') },
      },
      ...bandSets(CUM_BB_UP, CUM_BB_MID, CUM_BB_LO, NAVY_LIGHT),
    ],
    legend: [
      { icon: 'dash', iconColor: '#000', text: '$GDXUDP Cumulative -1195.78 (15 Jun)', big: true, dy: 11.5, tx: 25 },
      { icon: 'dash', iconColor: NAVY, text: 'BB(20,2.0) -1282.57 - -1171.55 - -1060.53', big: false, dy: 22.5, tx: 22 },
      { icon: 'vol', text: 'Volume undef', big: false, dy: 33.5, tx: 22, color: '#666' },
    ],
    boxes: [
      { v: CUM_LAST.mid, t: '-1171.55', c: NAVY },
      { v: CUM_LAST.up, t: '-1060.53', c: NAVY },
      { v: CUM_LAST.lo, t: '-1282.57', c: NAVY },
      { v: CUM_LAST.close, t: '-1195.78', bold: true, c: '#000' },
    ],
    annotate: (chart) => {
      drawEllipse(chart, 252.5, -1183, 10.2, 115.6, '#e00000', 3.2);
      arrowData(chart, 252, -883, 252, -1067, '#e00000', 2);
      drawNote(chart, 241, -742, 'Fell below Mid', `bold 15px ${AF}`, '#e00000');
      drawNote(chart, 241, -815, 'Bollinger Band', `bold 15px ${AF}`, '#e00000');
    },
  },
  {
    key: 'adp',
    top: 613,
    height: 179,
    xHeight: 0,
    xPad: 0,
    showX: false,
    yMin: -810.5,
    yMax: 63.5,
    yTicks: ADP_TICKS,
    yFmt: (v) => String(v),
    datasets: [
      { type: 'line', data: series(ADP), borderColor: '#000', borderWidth: 2, pointRadius: 0, tension: 0 },
      ...bandSets(ADP_BB_UP, ADP_BB_MID, ADP_BB_LO, NAVY),
    ],
    legend: [
      { icon: 'dash', iconColor: '#000', text: '$GDXADP -346.66 (15 Jun)', big: true, dy: 12.5, tx: 25 },
      { icon: 'dash', iconColor: NAVY, text: 'BB(20,2.0) -412.66 - -330.06 - -247.46', big: false, dy: 23.5, tx: 22 },
    ],
    boxes: [
      { v: ADP_LAST.mid, t: '-330.06', c: NAVY },
      { v: ADP_LAST.up, t: '-247.46', c: NAVY },
      { v: ADP_LAST.lo, t: '-412.66', c: NAVY },
      { v: ADP_LAST.close, t: '-346.66', bold: true, c: '#000' },
    ],
    annotate: (chart) => {
      drawEllipse(chart, 248.6, -325, 7.7, 144, '#e00000', 3.2);
      arrowData(chart, 263.5, -571, 255.8, -425, '#e00000', 2);
      drawNote(chart, 243, -659, 'Fell below mid', `bold 15px ${AF}`, '#e00000');
      drawNote(chart, 243, -752, 'Bollinger Band', `bold 15px ${AF}`, '#e00000');
    },
  },
  {
    key: 'gld',
    top: 792,
    height: 166,
    xHeight: 23,
    xPad: 2.4,
    showX: true,
    yMin: 0.16571,
    yMax: 0.19922,
    yTicks: GLD_TICKS,
    yFmt: (v) => v.toFixed(3),
    datasets: [
      {
        type: 'bar',
        data: floatBars(GLD_LO, GLD_HI),
        backgroundColor: (c: any) => (c.dataIndex === GLD_HI.length - 1 ? '#d6c300' : '#000'),
        barThickness: 1.3,
        grouped: false,
      },
      ...bandSets(GLD_BB_UP, GLD_BB_MID, GLD_BB_LO, NAVY),
    ],
    legend: [
      { icon: 'candle', text: 'GDX:GLD 0.184', big: true, dy: 8.5, tx: 24 },
      { icon: 'dash', iconColor: NAVY, text: 'BB(20,2.0) 0.180 - 0.182 - 0.184', big: false, dy: 20, tx: 22 },
    ],
    boxes: [
      { v: GLD_LAST.mid, t: '0.182', c: NAVY },
      { v: GLD_LAST.lo, t: '0.180', c: NAVY },
      { v: GLD_LAST.up, t: '0.184', c: NAVY },
      { v: GLD_LAST.close, t: '0.184', bold: true, c: '#000' },
    ],
    annotate: (chart) => {
      const blue = '#2236e0';
      lineData(chart, 219.7, 0.18445, 258, 0.18445, blue, 2.6);
      lineData(chart, 230.7, 0.17843, 256.3, 0.18054, blue, 2.6);
      arrowData(chart, 230.7, 0.1763, 230.7, 0.1838, blue, 2);
      arrowData(chart, 247.8, 0.1746, 244.3, 0.1798, blue, 2);
      drawNote(chart, 232.4, 0.17227, 'GDX/GLD = higher', `bold 16px ${AF}`, '#1f2fd6');
      drawNote(chart, 232.4, 0.16758, 'highs and higher lows', `bold 16px ${AF}`, '#1f2fd6');
    },
  },
];

export default function App() {
  const abs = (o: any) => ({ position: 'absolute' as const, lineHeight: 1, whiteSpace: 'nowrap' as const, ...o });
  return (
    <div style={{ position: 'absolute', left: 0, top: 0, width: W, height: H, background: '#fff', fontFamily: AF, color: '#000', overflow: 'hidden' }}>
      <div style={abs({ left: 10, top: 4.5, fontSize: 12.3, fontWeight: 'bold' })}>$GDXUDP</div>
      <div style={abs({ left: 75, top: 5.7, fontSize: 11 })}>Gold Miners Volume Advance-Decline Percent (EOD) INDX</div>
      <div style={abs({ left: 556, top: 5.6, fontSize: 10.5, color: '#444' })}>©StockCharts.com</div>
      <div style={abs({ left: 10, top: 18.1, fontSize: 10.5 })}>15-Jun-2018</div>
      <div style={abs({ right: W - 638, top: 17.4, fontSize: 11.3 })}>
        <b>Open</b> -1195.78 <b>High</b> -1195.78 <b>Low</b> -1195.78 <b>Close</b> -1195.78 <b>Chg</b> -76.22 (-6.81%)
      </div>
      <div
        style={{
          position: 'absolute',
          left: 640,
          top: 22,
          width: 0,
          height: 0,
          borderLeft: '3.5px solid transparent',
          borderRight: '3.5px solid transparent',
          borderTop: '5px solid #b3112e',
        }}
      />
      {PANELS.map((p) => (
        <Panel key={p.key} spec={p} />
      ))}
    </div>
  );
}
